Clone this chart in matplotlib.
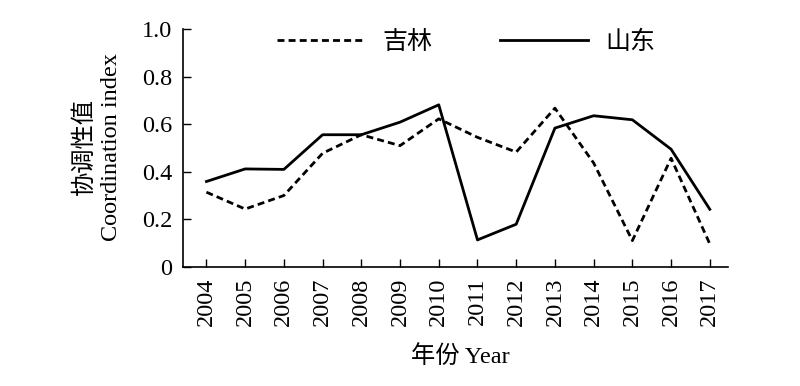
import matplotlib
matplotlib.use('Agg')
import matplotlib.pyplot as plt

plt.rcParams['font.family'] = ['Liberation Serif', 'Noto Sans CJK SC']

years = list(range(2004, 2018))
jilin = [0.314, 0.243, 0.30, 0.478, 0.556, 0.51, 0.623, 0.545, 0.483, 0.668, 0.437, 0.11, 0.457, 0.096]
shandong = [0.359, 0.412, 0.41, 0.556, 0.556, 0.609, 0.682, 0.113, 0.179, 0.584, 0.636, 0.619, 0.495, 0.242]
yticks = [0, 0.2, 0.4, 0.6, 0.8, 1.0]
ytick_labels = ['0', '0.2', '0.4', '0.6', '0.8', '1.0']

fig = plt.figure(figsize=(8, 3.86), dpi=100)
ax = fig.add_axes([0.229, 0.309, 0.681, 0.615])

ax.plot(years, jilin, color='black', linestyle='--', linewidth=2.0, dashes=(2.5, 1.5), label='吉林')
ax.plot(years, shandong, color='black', linestyle='-', linewidth=2.0, label='山东')

ax.set_xlim(2003.4, 2017.47)
ax.set_ylim(0, 1.0)
ax.set_xticks(years)
ax.set_xticklabels([str(y) for y in years], rotation=90, fontsize=17.5)
ax.set_yticks(yticks)
ax.set_yticklabels(ytick_labels, fontsize=17.5)
ax.tick_params(direction='in', length=6, width=1, pad=8)

for s in ['top', 'right']:
    ax.spines[s].set_visible(False)
for s in ['left', 'bottom']:
    ax.spines[s].set_linewidth(1.2)

ax.legend(loc='upper center', bbox_to_anchor=(0.52, 1.09), ncol=2, frameon=False,
          fontsize=18, handlelength=3.5, columnspacing=2.7, handletextpad=0.72)

fig.text(0.106, 0.62, '协调性值', rotation=90, ha='center', va='center', fontsize=17.5)
fig.text(0.1396, 0.62, 'Coordination index', rotation=90, ha='center', va='center', fontsize=17.5)
fig.text(0.575, 0.076, '年份 Year', ha='center', va='center', fontsize=17.5)

fig.savefig('out.png', dpi=100)
